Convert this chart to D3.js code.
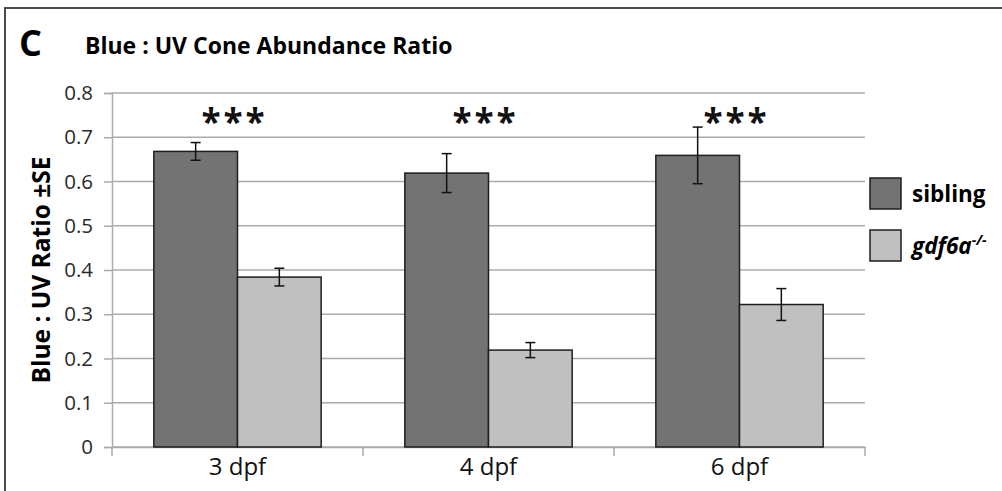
<!DOCTYPE html>
<html>
<head>
<meta charset="utf-8">
<script src="https://d3js.org/d3.v7.min.js"></script>
<style>
  body { margin: 0; background: #fff; }
  text { font-family: "Open Sans", sans-serif; }
</style>
</head>
<body>
<script>
  // data
  var categories = ["3 dpf", "4 dpf", "6 dpf"];
  var seriesNames = ["sibling", "gdf6a"];
  var siblingValues = [0.668, 0.619, 0.659];
  var siblingSE = [0.020, 0.044, 0.064];
  var mutantValues = [0.384, 0.219, 0.322];
  var mutantSE = [0.020, 0.017, 0.036];
  var yTicks = [0, 0.1, 0.2, 0.3, 0.4, 0.5, 0.6, 0.7, 0.8];
  var marks = ["***", "***", "***"];

  var width = 1002, height = 491;
  var colors = ["#737373", "#c0c0c0"];

  var svg = d3.select("body").append("svg")
      .attr("width", width)
      .attr("height", height);

  // outer frame
  svg.append("rect")
     .attr("x", 5).attr("y", 8)
     .attr("width", 1000).attr("height", 500)
     .attr("fill", "none")
     .attr("stroke", "#4a4a4a")
     .attr("stroke-width", 2);

  svg.append("text")
     .attr("x", 19).attr("y", 56)
     .attr("font-size", 36).attr("font-weight", "bold")
     .text("C");

  svg.append("text")
     .attr("x", 85).attr("y", 54)
     .attr("font-size", 23).attr("font-weight", "bold")
     .text("Blue : UV Cone Abundance Ratio");

  var x0 = d3.scaleBand()
             .domain(categories)
             .range([112, 865]);

  var x1 = d3.scaleBand()
             .domain(seriesNames)
             .range([0, x0.bandwidth()])
             .paddingOuter(0.5)
             .paddingInner(0);

  var y = d3.scaleLinear()
            .domain([0, 0.8])
            .range([447, 93]);

  // gridlines
  svg.append("g")
     .selectAll("line")
     .data(yTicks)
     .enter()
       .append("line")
       .attr("x1", 112).attr("x2", 865)
       .attr("y1", function(d){ return y(d); })
       .attr("y2", function(d){ return y(d); })
       .attr("stroke", "#ababab")
       .attr("stroke-width", 1.5);

  var yAxis = d3.axisLeft(y)
                .tickValues(yTicks)
                .tickSize(8)
                .tickFormat(function(d){ return d === 0 ? "0" : d3.format(".1f")(d); });

  var gy = svg.append("g")
              .attr("transform", "translate(112,0)")
              .call(yAxis);
  gy.selectAll("path, line").attr("stroke", "#ababab").attr("stroke-width", 1.5);
  gy.selectAll("text").attr("font-size", 20.5).attr("fill", "#2a2a2a").attr("x", -19)
    .style("font-family", "'Open Sans', sans-serif");

  var xAxis = d3.axisBottom(x0).tickSize(0).tickPadding(11);
  var gx = svg.append("g")
              .attr("transform", "translate(0,447)")
              .call(xAxis);
  gx.select("path").attr("stroke", "#ababab").attr("stroke-width", 1.5);
  gx.selectAll("text").attr("font-size", 24).attr("fill", "#111")
    .style("font-family", "'Open Sans', sans-serif");

  // category divider ticks
  var edges = categories.map(function(c){ return x0(c); });
  edges.push(x0(categories[categories.length - 1]) + x0.bandwidth());
  svg.append("g")
     .selectAll("line")
     .data(edges)
     .enter()
       .append("line")
       .attr("x1", function(d){ return d; })
       .attr("x2", function(d){ return d; })
       .attr("y1", 447).attr("y2", 456)
       .attr("stroke", "#ababab")
       .attr("stroke-width", 1.5);

  var rows = categories.map(function(c, i){
    return [
      { cat: c, key: "sibling", v: siblingValues[i], se: siblingSE[i] },
      { cat: c, key: "gdf6a", v: mutantValues[i], se: mutantSE[i] }
    ];
  });
  var flat = [].concat.apply([], rows);

  svg.append("g")
     .selectAll("rect")
     .data(flat)
     .enter()
       .append("rect")
       .attr("x", function(d){ return x0(d.cat) + x1(d.key); })
       .attr("y", function(d){ return y(d.v); })
       .attr("width", x1.bandwidth())
       .attr("height", function(d){ return y(0) - y(d.v); })
       .attr("fill", function(d, i){ return colors[i % 2]; })
       .attr("stroke", "#1e1e1e")
       .attr("stroke-width", 1.5);

  // error bars
  var err = svg.append("g")
               .selectAll("g")
               .data(flat)
               .enter()
               .append("g")
               .attr("stroke", "#111")
               .attr("stroke-width", 1.5);
  function cx(d){ return x0(d.cat) + x1(d.key) + x1.bandwidth() / 2; }
  err.append("line")
     .attr("x1", cx).attr("x2", cx)
     .attr("y1", function(d){ return y(d.v + d.se); })
     .attr("y2", function(d){ return y(d.v - d.se); });
  err.append("line")
     .attr("x1", function(d){ return cx(d) - 5; })
     .attr("x2", function(d){ return cx(d) + 5; })
     .attr("y1", function(d){ return y(d.v + d.se); })
     .attr("y2", function(d){ return y(d.v + d.se); });
  err.append("line")
     .attr("x1", function(d){ return cx(d) - 5; })
     .attr("x2", function(d){ return cx(d) + 5; })
     .attr("y1", function(d){ return y(d.v - d.se); })
     .attr("y2", function(d){ return y(d.v - d.se); });

  // significance marks
  svg.append("g")
     .selectAll("text")
     .data(marks)
     .enter()
       .append("text")
       .attr("x", function(d, i){ return x0(categories[i]) + x0.bandwidth() / 2 - 3; })
       .attr("y", 134)
       .attr("text-anchor", "middle")
       .attr("font-size", 35)
       .attr("font-weight", "bold")
       .attr("letter-spacing", 3)
       .attr("fill", "#111")
       .text(function(d){ return d; });

  // y axis title
  svg.append("text")
     .attr("transform", "translate(50,270) rotate(-90)")
     .attr("text-anchor", "middle")
     .attr("font-size", 24.5)
     .attr("font-weight", "bold")
     .text("Blue : UV Ratio \u00b1SE");

  // legend
  var legend = svg.append("g")
                  .selectAll("g")
                  .data(seriesNames)
                  .enter()
                  .append("g")
                  .attr("transform", function(d, i){ return "translate(870," + (178 + i * 52) + ")"; });
  legend.append("rect")
        .attr("width", 31).attr("height", 31)
        .attr("fill", function(d, i){ return colors[i]; })
        .attr("stroke", "#1e1e1e")
        .attr("stroke-width", 1.5);
  var lt = legend.append("text")
        .attr("x", 42).attr("y", 24)
        .attr("font-size", 22.5)
        .attr("font-weight", "bold")
        .attr("font-style", function(d, i){ return i === 1 ? "italic" : "normal"; })
        .text(function(d){ return d; });
  lt.filter(function(d, i){ return i === 1; })
    .append("tspan")
    .attr("dy", -9)
    .attr("font-size", 14)
    .text("-/-");
</script>
</body>
</html>
